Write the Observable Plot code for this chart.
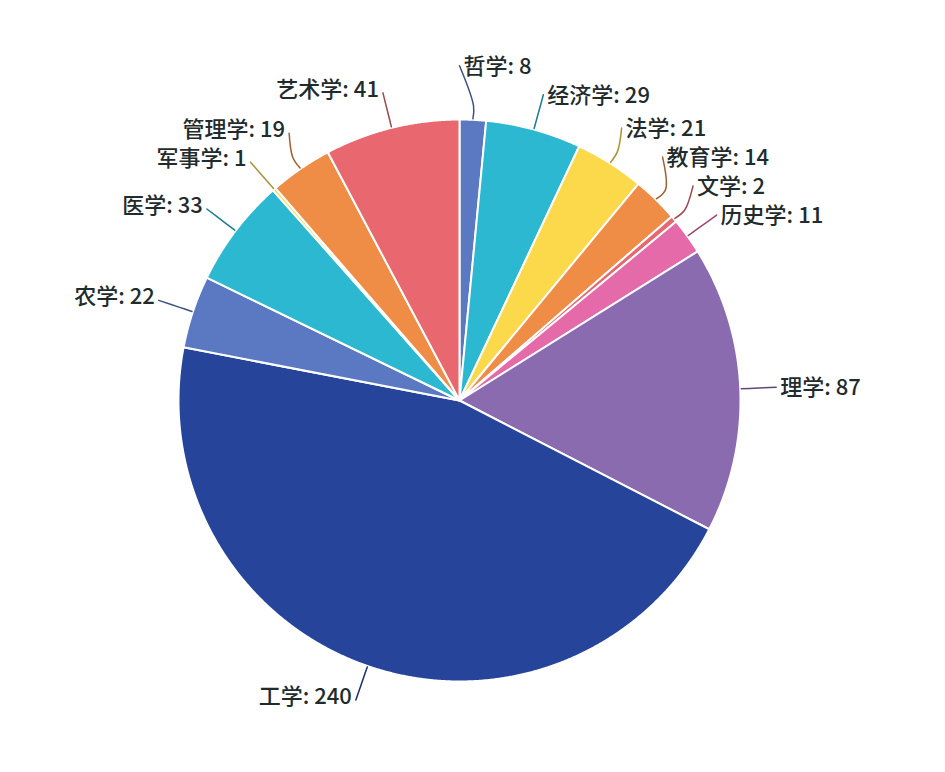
<!DOCTYPE html>
<html><head><meta charset="utf-8">
<script src="https://cdn.jsdelivr.net/npm/d3@7"></script>
<script src="https://cdn.jsdelivr.net/npm/@observablehq/plot@0.6"></script>
<style>body{margin:0;background:#fff;}</style>
</head><body><div id="chart"></div>
<script>
const categories = ["哲学","经济学","法学","教育学","文学","历史学","理学","工学","农学","医学","军事学","管理学","艺术学"];
const counts = [8,29,21,14,2,11,87,240,22,33,1,19,41];
const palette = ["#5b79c2","#2bb8d0","#fbd94b","#ef8d47","#e9676f","#e46aaa","#8b6bb0","#26449a"];

const W = 945, H = 772, cx = 459, cy = 400, r = 281, labelR = 317, gap = 29;
const items = categories.map((name, i) => ({name, value: counts[i], color: palette[i % palette.length]}));
const arcs = d3.pie().sort(null).value(d => d.value)(items);
const pt = (a, rad) => [cx + rad * Math.sin(a), cy - rad * Math.cos(a)];

const slicePts = [];
arcs.forEach(a => {
  const d = a.data;
  slicePts.push({name: d.name, x: cx, y: cy, color: d.color});
  const n = Math.max(2, Math.ceil((a.endAngle - a.startAngle) / 0.004));
  for (let k = 0; k <= n; k++) {
    const t = a.startAngle + (a.endAngle - a.startAngle) * k / n;
    const [x, y] = pt(t, r);
    slicePts.push({name: d.name, x, y, color: d.color});
  }
  slicePts.push({name: d.name, x: cx, y: cy, color: d.color});
});

const labels = arcs.map(a => {
  const mid = (a.startAngle + a.endAngle) / 2;
  const [x0, y0] = pt(mid, labelR);
  return {name: a.data.name, value: a.data.value, color: a.data.color, mid, right: Math.sin(mid) >= 0, x0, y0, y: y0};
});
for (const side of [true, false]) {
  const upper = labels.filter(l => l.right === side && l.y0 < cy).sort((a, b) => b.y0 - a.y0);
  let prev = Infinity;
  for (const l of upper) { l.y = Math.min(l.y0, prev - gap); prev = l.y; }
  const lower = labels.filter(l => l.right === side && l.y0 >= cy).sort((a, b) => a.y0 - b.y0);
  prev = -Infinity;
  for (const l of lower) { l.y = Math.max(l.y0, prev + gap); prev = l.y; }
}
for (const l of labels) {
  const dy = l.y - cy;
  const dx = Math.sqrt(Math.max(0, labelR * labelR - dy * dy));
  l.x = cx + (l.right ? dx : -dx);
}
const leaderPts = [];
for (const l of labels) {
  const lc = d3.color(l.color).darker(1.1).formatHex();
  const [ex, ey] = pt(l.mid, r + 1);
  const [mx, my] = pt(l.mid, r + 14);
  leaderPts.push({name: l.name, x: ex, y: ey, c: lc});
  leaderPts.push({name: l.name, x: mx, y: my, c: lc});
  leaderPts.push({name: l.name, x: l.x, y: l.y, c: lc});
}

const font = "'Noto Sans CJK SC', 'Noto Sans', sans-serif";
const textOpts = {x: "x", y: "y", text: d => `${d.name}: ${d.value}`, fontSize: 22, fontWeight: 500, fill: "#1f2b2c", fontFamily: font};

const chart = Plot.plot({
  width: W, height: H, margin: 0,
  x: {domain: [0, W], range: [0, W], axis: null},
  y: {domain: [0, H], range: [0, H], axis: null},
  color: {type: "identity"},
  style: {background: "#fff", fontFamily: font},
  marks: [
    Plot.line(slicePts, {x: "x", y: "y", z: "name", fill: "color", stroke: "#fff", strokeWidth: 2, strokeLinejoin: "round", curve: "linear"}),
    Plot.line(leaderPts, {x: "x", y: "y", z: "name", stroke: "c", strokeWidth: 1.5, curve: "catmull-rom"}),
    Plot.text(labels.filter(l => l.right), {...textOpts, textAnchor: "start", dx: 4, dy: 1}),
    Plot.text(labels.filter(l => !l.right), {...textOpts, textAnchor: "end", dx: -4, dy: -3})
  ]
});
document.getElementById("chart").appendChild(chart);
</script>
</body></html>
